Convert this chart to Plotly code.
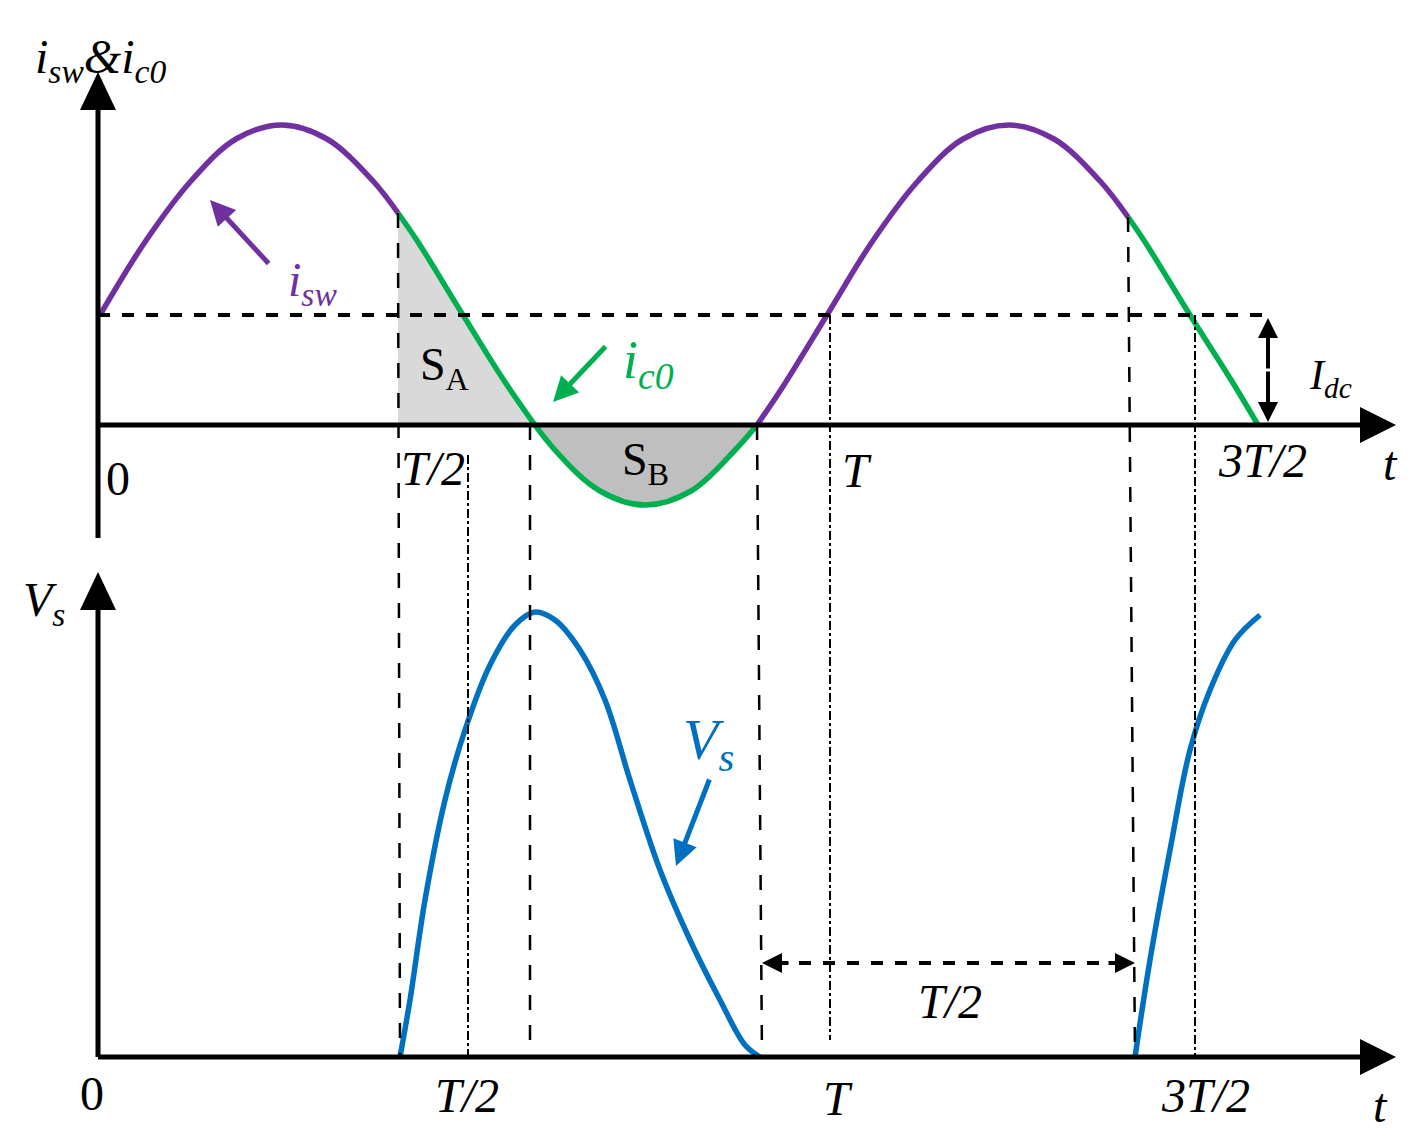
import plotly.graph_objects as go

# schematic coordinates (pixel-like units of the drawing)
isw_x1 = [100,145,191,236,282,327,373,398]
isw_y1 = [315,242,181,139,125,139,181,213]
ic0_x1 = [398,418,463,509,554,600,645,691,736,757]
ic0_y1 = [213,242,315,388,449,491,505,491,449,425]
isw_x2 = [757,782,827,872,918,963,1009,1054,1100,1128]
isw_y2 = [425,388,315,242,181,139,125,139,181,217]
ic0_x2 = [1128,1145,1190,1236,1258]
ic0_y2 = [217,242,315,388,425]
vs_x1 = [400,410,425,445,465,490,515,535,555,580,605,630,660,690,720,745,760]
vs_y1 = [1057,1000,900,800,730,665,625,612,620,650,700,780,870,940,1000,1045,1057]
vs_x2 = [1135,1150,1170,1190,1210,1235,1260]
vs_y2 = [1057,960,850,750,690,640,615]
sa_x = [398,398,418,463,509,535,398]
sa_y = [425,213,242,315,388,425,425]
sb_x = [535,554,600,645,691,736,757,535]
sb_y = [425,449,491,505,491,449,425,425]

PUR, GRN, BLU = "#7030a0", "#00b050", "#0070c0"
fig = go.Figure()
fig.add_trace(go.Scatter(x=sa_x, y=sa_y, fill="toself", fillcolor="#d9d9d9", line=dict(width=0), mode="lines"))
fig.add_trace(go.Scatter(x=sb_x, y=sb_y, fill="toself", fillcolor="#bfbfbf", line=dict(width=0), mode="lines"))

def ln(x0, y0, x1, y1, dash="solid", w=4, c="black"):
    fig.add_shape(type="line", x0=x0, y0=y0, x1=x1, y1=y1, line=dict(color=c, width=w, dash=dash))

# dashed guides
ln(98, 315, 1270, 315, "dash", 4)
for (x0, y0, x1) in [(398, 213, 400), (530, 425, 530), (757, 425, 762), (1128, 217, 1135)]:
    ln(x0, y0, x1, 1057, "longdash", 2.5)
for (x, y0, y1) in [(468, 455, 1057), (830, 315, 1040), (1195, 315, 1057)]:
    ln(x, y0, x, y1, "dashdot", 2)
ln(775, 963, 1122, 963, "dash", 4)

for xs, ys, c in [(isw_x1, isw_y1, PUR), (ic0_x1, ic0_y1, GRN), (isw_x2, isw_y2, PUR),
                  (ic0_x2, ic0_y2, GRN), (vs_x1, vs_y1, BLU), (vs_x2, vs_y2, BLU)]:
    fig.add_trace(go.Scatter(x=xs, y=ys, mode="lines", line=dict(color=c, width=5.5, shape="spline")))

# axes
ln(98, 538, 98, 105, w=5); ln(98, 425, 1365, 425, w=5)
ln(98, 1057, 98, 605, w=5); ln(98, 1057, 1365, 1057, w=5)
for p in ["M80,110 L98,72 L116,110 Z", "M1360,407 L1396,425 L1360,443 Z",
          "M80,610 L98,572 L116,610 Z", "M1360,1039 L1396,1057 L1360,1075 Z"]:
    fig.add_shape(type="path", path=p, fillcolor="black", line=dict(width=0))

def arr(x, y, ax, ay, c="black", w=4, head=2):
    fig.add_annotation(x=x, y=y, ax=ax, ay=ay, xref="x", yref="y", axref="x", ayref="y",
                       showarrow=True, arrowhead=head, arrowsize=1, arrowwidth=w, arrowcolor=c, text="")

arr(1268, 318, 1268, 370); arr(1268, 422, 1268, 370)
arr(762, 963, 790, 963); arr(1135, 963, 1107, 963)
arr(210, 200, 270, 265, PUR, 5)
arr(553, 402, 607, 345, GRN, 5)
arr(676, 866, 710, 778, BLU, 5)

F = "Liberation Serif"
def tx(x, y, s, size=48, c="black"):
    fig.add_annotation(x=x, y=y, xref="x", yref="y", text=s, showarrow=False,
                       font=dict(family=F, size=size, color=c))

tx(100, 60, "<i>i<sub>sw</sub>&i<sub>c0</sub></i>", 48)
tx(118, 478, "0"); tx(433, 468, "<i>T/2</i>"); tx(857, 470, "<i>T</i>")
tx(1262, 460, "<i>3T/2</i>"); tx(1390, 463, "<i>t</i>")
tx(1330, 378, "<i>I<sub>dc</sub></i>", 42)
tx(445, 368, "S<sub>A</sub>", 46); tx(645, 463, "S<sub>B</sub>", 46)
tx(312, 283, "<i>i<sub>sw</sub></i>", 48, PUR)
tx(648, 363, "<i>i<sub>c0</sub></i>", 54, GRN)
tx(44, 603, "<i>V<sub>s</sub></i>", 48)
tx(708, 743, "<i>V<sub>s</sub></i>", 58, BLU)
tx(92, 1093, "0"); tx(467, 1095, "<i>T/2</i>"); tx(838, 1098, "<i>T</i>")
tx(1205, 1095, "<i>3T/2</i>"); tx(1380, 1105, "<i>t</i>"); tx(950, 1001, "<i>T/2</i>")

fig.update_layout(width=1419, height=1143, margin=dict(l=0, r=0, t=0, b=0), showlegend=False,
                  plot_bgcolor="white", paper_bgcolor="white",
                  xaxis=dict(range=[8, 1427], visible=False),
                  yaxis=dict(range=[1151, 8], visible=False))
fig.write_html("out.html")
